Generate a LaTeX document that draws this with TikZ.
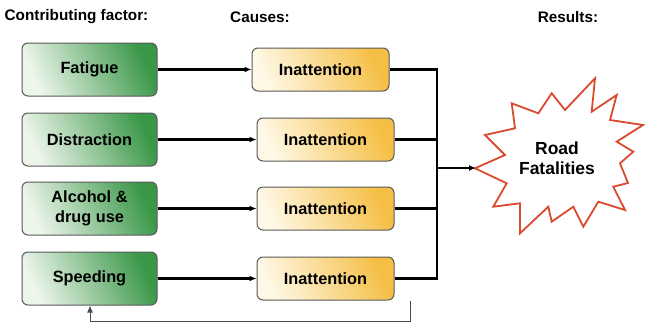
\documentclass[tikz,border=0pt]{standalone}
\usepackage{fontspec}
\setmainfont{Liberation Sans}
\usetikzlibrary{arrows.meta}
\definecolor{factorlight}{HTML}{EEF6EC}
\definecolor{factordark}{HTML}{3A9748}
\definecolor{causelight}{HTML}{FFF8E6}
\definecolor{causedark}{HTML}{F5BF45}
\definecolor{burstred}{HTML}{DA4A2E}

\begin{document}
\begin{tikzpicture}[x=1pt, y=-1pt, >={Latex[length=7pt,width=6pt]},
  head/.style={font=\bfseries\fontsize{15.3}{18}\selectfont},
  factor/.style={draw=black!65, line width=1pt, rounded corners=6pt,
    left color=factorlight, right color=factordark, shading angle=115,
    minimum width=135pt, minimum height=53pt, align=center,
    font=\bfseries\fontsize{16.3}{20.5}\selectfont},
  cause/.style={draw=black!65, line width=1pt, rounded corners=6pt,
    left color=causelight, right color=causedark, shading angle=115,
    minimum width=137pt, minimum height=43pt,
    font=\bfseries\fontsize{16.3}{19}\selectfont},
  link/.style={line width=2.2pt}]
  \useasboundingbox (0,0) rectangle (645,324);

  \node[head] (hfactor) at (76.5,17) {Contributing factor:};
  \node[head] (hcause) at (260,17) {Causes:};
  \node[head] (hresult) at (568,17) {Results:};

  \draw[burstred, line width=1.8pt, line join=miter, fill=white]
    (475,168.3) -- (505,155) -- (485,135) -- (515,128.3) -- (511.7,103.3)
    -- (538.3,113.3) -- (551.7,93.3) -- (565,110) -- (595,78.3) -- (591.7,111.7)
    -- (616.7,95) -- (610,120) -- (643,125) -- (616.7,141.7) -- (633.3,151.7)
    -- (620,163.3) -- (628,183) -- (613.3,186.7) -- (625,210) -- (598.3,201.7)
    -- (583.3,226.7) -- (573.3,206.7) -- (551.7,221.7) -- (548.3,206.7)
    -- (520,233.3) -- (520,203.3) -- (493.3,206.7) -- (506.7,183.3) -- cycle;
  \node[align=center, font=\bfseries\fontsize{17.5}{20}\selectfont] (fatal) at (557,158) {Road\\Fatalities};

  \coordinate (bus) at (437,168);
  \coordinate (burstin) at (476,168);
  \foreach \name/\txt/\y/\cx in {fat/Fatigue/69.5/320.5, dis/Distraction/139.5/325.5,
      alc/{Alcohol \&\\drug use}/208.5/325.5, spd/Speeding/278.5/325.5}{
    \node[factor] (f\name) at (89.5,\y) {\txt};
    \node[cause] (c\name) at (\cx,\y) {Inattention};
    \draw[->, link] (f\name) -- (c\name);
    \draw[link] (c\name.east) -| (bus);
  }
  \draw[->, link] (bus) -- (burstin);

  \coordinate (loopR) at (410,321);
  \coordinate (loopL) at (90,321);
  \draw[->, line width=1pt, black!70] (cspd.south -| loopR) -- (loopR) -- (loopL) -- (fspd.south -| loopL);
\end{tikzpicture}
\end{document}
